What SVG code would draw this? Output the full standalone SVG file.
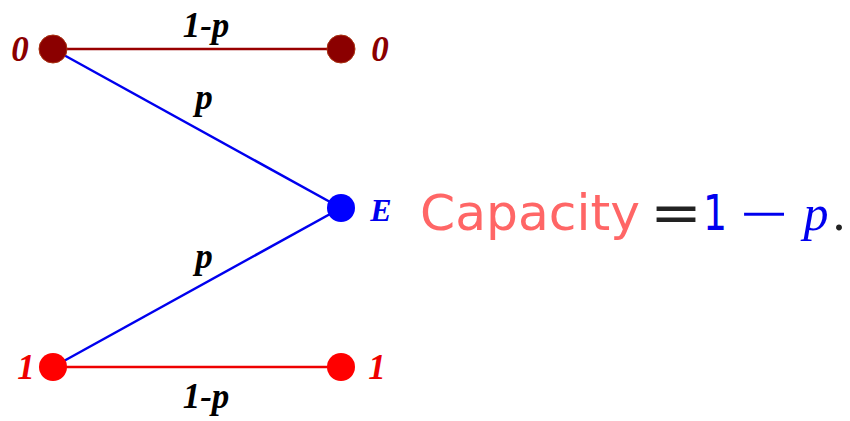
<svg xmlns="http://www.w3.org/2000/svg" width="850" height="421" viewBox="0 0 850 421">
<style>
.lbl{font-family:"Liberation Serif",serif;font-style:italic;font-weight:bold}
.cap{font-family:"DejaVu Sans","Liberation Sans",sans-serif}
</style>
<rect width="850" height="421" fill="#fff"/>
<g id="connectors" stroke-width="2.5" fill="none">
<line x1="53" y1="49" x2="341" y2="49" stroke="#990000"/>
<line x1="53" y1="49" x2="341" y2="208" stroke="#0000ee"/>
<line x1="53" y1="367" x2="341" y2="208" stroke="#0000ee"/>
<line x1="53" y1="367" x2="341" y2="367" stroke="#ee0000"/>
<text class="lbl" x="206" y="37" font-size="35" fill="#000" stroke="none" text-anchor="middle">1-p</text>
<text class="lbl" x="204" y="109" font-size="35" fill="#000" stroke="none" text-anchor="middle">p</text>
<text class="lbl" x="204" y="268" font-size="35" fill="#000" stroke="none" text-anchor="middle">p</text>
<text class="lbl" x="206" y="408" font-size="35" fill="#000" stroke="none" text-anchor="middle">1-p</text>
</g>
<g id="n0l"><circle cx="53" cy="49" r="14" fill="#8b0000" stroke="#a83010" stroke-width="1"/><text class="lbl" x="20" y="61" font-size="35" fill="#8b0000" text-anchor="middle">0</text></g>
<g id="n0r"><circle cx="341" cy="49" r="14" fill="#8b0000" stroke="#a83010" stroke-width="1"/><text class="lbl" x="380" y="61" font-size="35" fill="#8b0000" text-anchor="middle">0</text></g>
<g id="nE"><circle cx="341" cy="208" r="14" fill="#0000ff"/><text class="lbl" x="381" y="221" font-size="32" fill="#0000ee" text-anchor="middle">E</text></g>
<g id="n1l"><circle cx="53" cy="367" r="14" fill="#ff0000"/><text class="lbl" x="26" y="379" font-size="35" fill="#ee0000" text-anchor="middle">1</text></g>
<g id="n1r"><circle cx="341" cy="367" r="14" fill="#ff0000"/><text class="lbl" x="377" y="379" font-size="35" fill="#ee0000" text-anchor="middle">1</text></g>
<g id="capacity">
<text class="cap" x="420" y="230" font-size="50" fill="#ff6666" textLength="220" lengthAdjust="spacingAndGlyphs">Capacity</text>
<text class="cap" x="650" y="232" font-size="56" fill="#222" textLength="52" lengthAdjust="spacingAndGlyphs">=</text>
<text class="cap" x="703" y="230" font-size="50" fill="#0000ee" textLength="24" lengthAdjust="spacingAndGlyphs">1</text>
<text x="740" y="228" font-size="42" fill="#0000ee" font-family="Liberation Sans,sans-serif" textLength="48" lengthAdjust="spacingAndGlyphs">−</text>
<text x="816" y="230" font-size="50" fill="#0000ee" font-family="Liberation Serif,serif" font-style="italic" text-anchor="middle">p</text>
<text x="839" y="230" font-size="50" fill="#222" font-family="Liberation Serif,serif" text-anchor="middle">.</text>
</g>
</svg>
